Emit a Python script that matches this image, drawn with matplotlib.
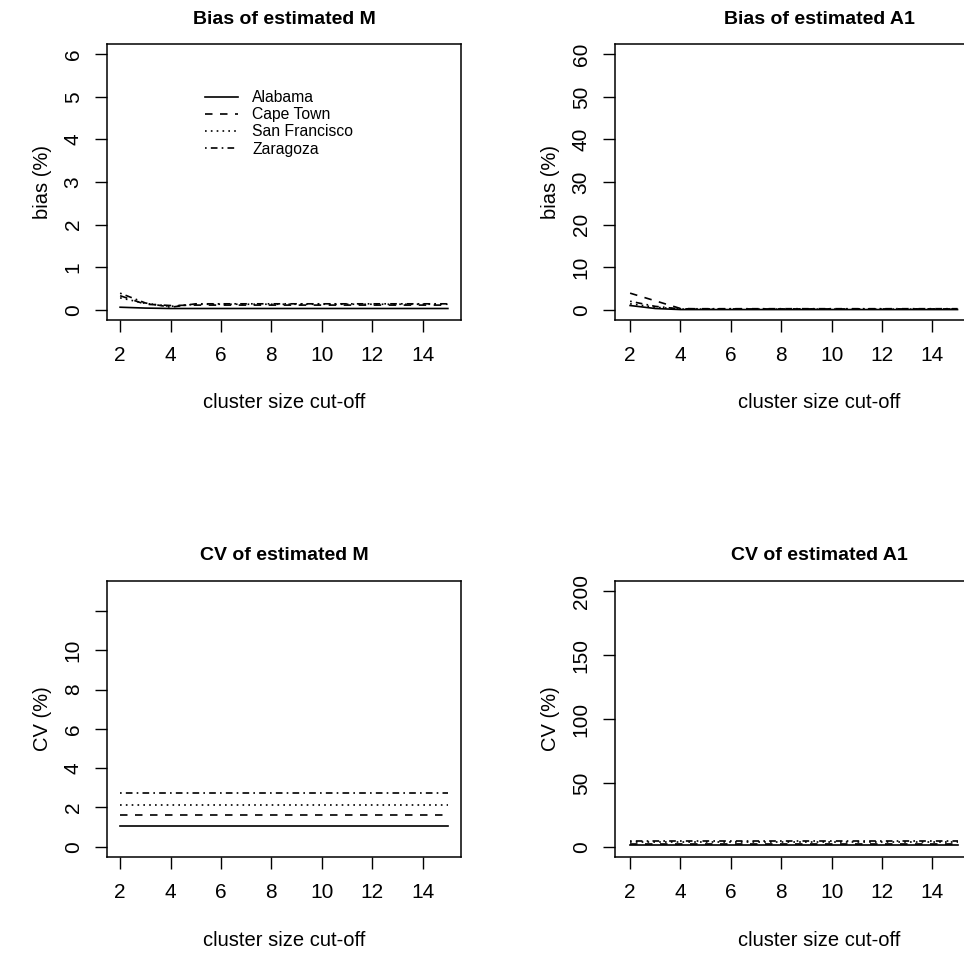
import matplotlib
matplotlib.use("Agg")
import matplotlib.pyplot as plt

plt.rcParams['font.family'] = ['Liberation Sans', 'DejaVu Sans']

# ---------------- data ----------------
cutoff = [2, 3, 4, 5, 6, 7, 8, 9, 10, 11, 12, 13, 14, 15]
series_names = ["Alabama", "Cape Town", "San Francisco", "Zaragoza"]

bias_M_alabama = [0.06, 0.04, 0.03, 0.03, 0.03, 0.03, 0.03, 0.03, 0.03, 0.03, 0.03, 0.03, 0.03, 0.03]
bias_M_capetown = [0.33, 0.13, 0.10, 0.11, 0.11, 0.11, 0.11, 0.11, 0.11, 0.11, 0.11, 0.11, 0.11, 0.11]
bias_M_sanfran = [0.28, 0.15, 0.08, 0.13, 0.13, 0.13, 0.13, 0.13, 0.13, 0.13, 0.13, 0.13, 0.13, 0.13]
bias_M_zaragoza = [0.39, 0.16, 0.06, 0.14, 0.14, 0.14, 0.14, 0.14, 0.14, 0.14, 0.14, 0.14, 0.14, 0.14]

bias_A1_alabama = [1.0, 0.3, 0.05, 0.05, 0.05, 0.05, 0.05, 0.05, 0.05, 0.05, 0.05, 0.05, 0.05, 0.05]
bias_A1_capetown = [3.9, 2.1, 0.3, 0.2, 0.2, 0.2, 0.2, 0.2, 0.2, 0.2, 0.2, 0.2, 0.2, 0.2]
bias_A1_sanfran = [1.4, 0.6, 0.15, 0.15, 0.15, 0.15, 0.15, 0.15, 0.15, 0.15, 0.15, 0.15, 0.15, 0.15]
bias_A1_zaragoza = [2.0, 0.8, 0.2, 0.25, 0.25, 0.25, 0.25, 0.25, 0.25, 0.25, 0.25, 0.25, 0.25, 0.25]

cv_M_alabama = [1.08, 1.08, 1.08, 1.08, 1.08, 1.08, 1.08, 1.08, 1.08, 1.08, 1.08, 1.08, 1.08, 1.08]
cv_M_capetown = [1.63, 1.63, 1.63, 1.63, 1.63, 1.63, 1.63, 1.63, 1.63, 1.63, 1.63, 1.63, 1.63, 1.63]
cv_M_sanfran = [2.12, 2.12, 2.12, 2.12, 2.12, 2.12, 2.12, 2.12, 2.12, 2.12, 2.12, 2.12, 2.12, 2.12]
cv_M_zaragoza = [2.75, 2.75, 2.75, 2.75, 2.75, 2.75, 2.75, 2.75, 2.75, 2.75, 2.75, 2.75, 2.75, 2.75]

cv_A1_alabama = [1.2, 1.2, 1.2, 1.2, 1.2, 1.2, 1.2, 1.2, 1.2, 1.2, 1.2, 1.2, 1.2, 1.2]
cv_A1_capetown = [2.2, 2.2, 2.2, 2.2, 2.2, 2.2, 2.2, 2.2, 2.2, 2.2, 2.2, 2.2, 2.2, 2.2]
cv_A1_sanfran = [3.6, 3.6, 3.6, 3.6, 3.6, 3.6, 3.6, 3.6, 3.6, 3.6, 3.6, 3.6, 3.6, 3.6]
cv_A1_zaragoza = [4.6, 4.6, 4.6, 4.6, 4.6, 4.6, 4.6, 4.6, 4.6, 4.6, 4.6, 4.6, 4.6, 4.6]

x_ticks = [2, 4, 6, 8, 10, 12, 14]
yticks_bias_M = [0, 1, 2, 3, 4, 5, 6]
yticks_bias_A1 = [0, 10, 20, 30, 40, 50, 60]
yticks_cv_M = [0, 2, 4, 6, 8, 10, 12]
yticklabels_cv_M = ["0", "2", "4", "6", "8", "10", ""]
yticks_cv_A1 = [0, 50, 100, 150, 200]

titles = ["Bias of estimated M", "Bias of estimated A1", "CV of estimated M", "CV of estimated A1"]
ylabels = ["bias (%)", "bias (%)", "CV (%)", "CV (%)"]
xlabel = "cluster size cut-off"

# ---------------- layout ----------------
W, H = 964, 960
fig = plt.figure(figsize=(W / 100, H / 100), dpi=100)

LW = 1.2
styles = [
    dict(linestyle="-"),
    dict(linestyle=(0, (4.5, 4.5))),
    dict(linestyle=(0, (1, 2.5))),
    dict(linestyle=(0, (1, 2.5, 4, 2.5))),
]

def px_axes(left, right, top, bottom):
    return fig.add_axes([left / W, 1 - bottom / H, (right - left) / W, (bottom - top) / H])

LEFT_X = (107, 461)
RIGHT_X = (615, 1023)
panels = [
    dict(box=LEFT_X + (44, 320), xr=(2, 15),
         series=[bias_M_alabama, bias_M_capetown, bias_M_sanfran, bias_M_zaragoza],
         ylim=(0, 6), yticks=yticks_bias_M, ylabels=[str(v) for v in yticks_bias_M]),
    dict(box=RIGHT_X + (44, 320), xr=(2, 17),
         series=[bias_A1_alabama, bias_A1_capetown, bias_A1_sanfran, bias_A1_zaragoza],
         ylim=(0, 60), yticks=yticks_bias_A1, ylabels=[str(v) for v in yticks_bias_A1]),
    dict(box=LEFT_X + (581, 857), xr=(2, 15),
         series=[cv_M_alabama, cv_M_capetown, cv_M_sanfran, cv_M_zaragoza],
         ylim=(0, 13), yticks=yticks_cv_M, ylabels=yticklabels_cv_M),
    dict(box=RIGHT_X + (581, 857), xr=(2, 17),
         series=[cv_A1_alabama, cv_A1_capetown, cv_A1_sanfran, cv_A1_zaragoza],
         ylim=(0, 200), yticks=yticks_cv_A1, ylabels=[str(v) for v in yticks_cv_A1]),
]

TICK_FS = 15
LAB_FS = 14.5
for i, p in enumerate(panels):
    l, r, t, b = p["box"]
    ax = px_axes(l, r, t, b)
    for name, vals, st in zip(series_names, p["series"], styles):
        ax.plot(cutoff, vals, color="black", lw=LW, label=name, **st)
    x0, x1 = p["xr"]
    ex = 0.04 * (x1 - x0)
    ax.set_xlim(x0 - ex, x1 + ex)
    y0, y1 = p["ylim"]
    ey = 0.04 * (y1 - y0)
    ax.set_ylim(y0 - ey, y1 + ey)
    ax.set_xticks(x_ticks)
    ax.set_xticklabels([str(v) for v in x_ticks])
    ax.set_yticks(p["yticks"])
    ax.set_yticklabels(p["ylabels"], rotation=90, va="center")
    ax.tick_params(axis="both", direction="out", length=8.5, width=1.0, color="black",
                   labelsize=TICK_FS, labelcolor="black")
    ax.tick_params(axis="x", pad=10)
    ax.tick_params(axis="y", pad=9)
    for s in ax.spines.values():
        s.set_linewidth(1.1)
        s.set_color("black")
    cx = (l + r) / 2
    fig.text(cx / W, 1 - (t - 25) / H, titles[i], ha="center", va="center",
             fontsize=14, fontweight="bold")
    fig.text(cx / W, 1 - (b + 83) / H, xlabel, ha="center", va="center", fontsize=LAB_FS)
    fig.text((l - 65) / W, 1 - ((t + b) / 2) / H, ylabels[i], ha="center", va="center",
             rotation=90, fontsize=LAB_FS)
    if i == 0:
        ax.legend(loc="upper left", bbox_to_anchor=(205 / W, 1 - 90 / H),
                  bbox_transform=fig.transFigure, frameon=False, fontsize=11.3,
                  handlelength=2.1, handletextpad=0.9, labelspacing=0.14,
                  borderpad=0, borderaxespad=0)

fig.savefig("out.png", dpi=100)
